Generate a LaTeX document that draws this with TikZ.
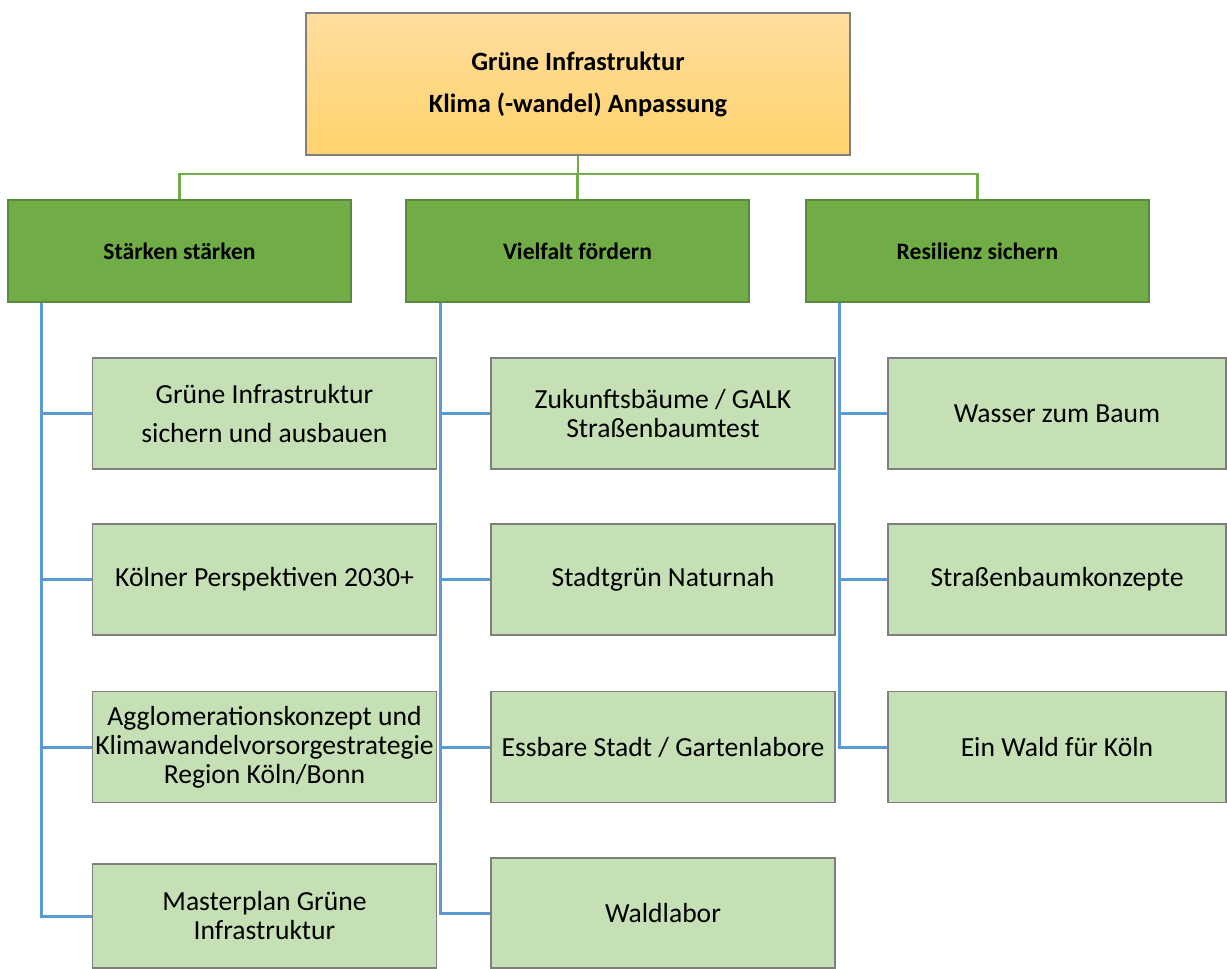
\documentclass[tikz,border=0pt]{standalone}
\usepackage{fontspec}
\setmainfont{Carlito}
\usetikzlibrary{positioning,calc}
\definecolor{hdgreen}{HTML}{70AD47}
\definecolor{hdframe}{HTML}{5B8A3C}
\definecolor{itmgreen}{HTML}{C5E0B4}
\definecolor{frmgray}{HTML}{7F7F7F}
\definecolor{topor}{HTML}{FFDD9E}
\definecolor{botor}{HTML}{FFD36C}
\definecolor{lnblue}{HTML}{5B9BD5}
\tikzset{
  topblk/.style={draw=frmgray,line width=0.7pt,top color=topor,bottom color=botor,minimum width=272pt,minimum height=71pt,align=center,inner sep=0pt,font=\fontsize{13.2}{21}\selectfont\bfseries},
  hdblk/.style={draw=hdframe,line width=0.7pt,fill=hdgreen,minimum width=171.5pt,minimum height=51pt,inner sep=0pt,font=\fontsize{11.8}{14}\selectfont\bfseries},
  itmblk/.style={draw=frmgray,line width=0.7pt,fill=itmgreen,minimum width=172pt,minimum height=55.5pt,inner sep=0pt,align=center,font=\fontsize{13.8}{14.5}\selectfont},
  gline/.style={draw=hdgreen,line width=1.2pt},
  bline/.style={draw=lnblue,line width=1.5pt}
}
\begin{document}
\begin{tikzpicture}[x=0.5pt,y=-0.5pt]
  \useasboundingbox (0,0) rectangle (1227,969);

  % top and the three fields
  \node[topblk] (top) at (578,84) {Grüne Infrastruktur\\Klima (-wandel) Anpassung};
  \node[hdblk] (h1) at (179.5,251) {Stärken stärken};
  \node[hdblk] (h2) at (577.5,251) {Vielfalt fördern};
  \node[hdblk] (h3) at (977.5,251) {Resilienz sichern};

  % projects
  \node[itmblk] (i11) at (264.5,413.5) {Grüne Infrastruktur\\[5pt]sichern und ausbauen};
  \node[itmblk] (i12) at (264.5,579.5) {Kölner Perspektiven 2030+};
  \node[itmblk] (i13) at (264.5,747) {Agglomerationskonzept und\\Klimawandelvorsorgestrategie\\Region Köln/Bonn};
  \node[itmblk, minimum height=52pt] (i14) at (264.5,916) {Masterplan Grüne\\Infrastruktur};

  \node[itmblk] (i21) at (663,413.5) {Zukunftsbäume / GALK\\Straßenbaumtest};
  \node[itmblk] (i22) at (663,579.5) {Stadtgrün Naturnah};
  \node[itmblk] (i23) at (663,747) {Essbare Stadt / Gartenlabore};
  \node[itmblk, minimum height=55pt] (i24) at (663,913) {Waldlabor};

  \node[itmblk, minimum width=169pt] (i31) at (1057,413.5) {Wasser zum Baum};
  \node[itmblk, minimum width=169pt] (i32) at (1057,579.5) {Straßenbaumkonzepte};
  \node[itmblk, minimum width=169pt] (i33) at (1057,747) {Ein Wald für Köln};

  % connectors
  \coordinate (bus) at ($(top.south)+(0,18)$);
  \draw[gline] (top.south) -- (bus);
  \foreach \h in {h1,h2,h3}
    \draw[gline] (bus) -| (\h.north);

  \coordinate (v1) at ($(h1.south west)+(34,0)$);
  \coordinate (v2) at ($(h2.south west)+(35,0)$);
  \coordinate (v3) at ($(h3.south west)+(34,0)$);
  \foreach \c in {1,2}
    \foreach \r in {1,...,4}
      \draw[bline] (v\c) |- (i\c\r.west);
  \foreach \r in {1,2,3}
    \draw[bline] (v3) |- (i3\r.west);
\end{tikzpicture}
\end{document}
